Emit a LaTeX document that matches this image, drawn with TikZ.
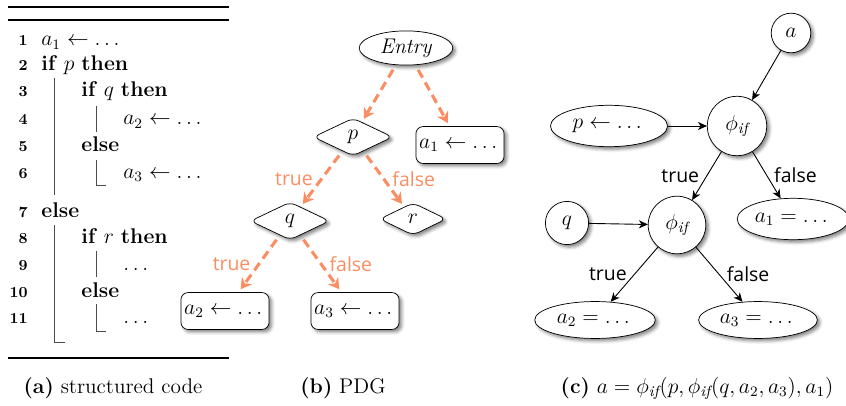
\documentclass[tikz,border=0pt]{standalone}
\usepackage{amsmath,amssymb}
\usepackage{fontspec}
\setsansfont{Open Sans}
\usetikzlibrary{arrows.meta,shapes.geometric,shadows.blur}
\definecolor{depcol}{HTML}{FC8D62}

\begin{document}
\begin{tikzpicture}[x=0.5556pt, y=-0.5556pt,
	every node/.style={font=\fontsize{11.8}{14}\selectfont},
	code/.style={anchor=base west, inner sep=0pt},
	num/.style={anchor=base east, inner sep=0pt, font=\fontsize{8.5}{10}\selectfont\bfseries},
	bar/.style={black!70, line width=0.5pt},
	rule/.style={line width=1pt},
	shad/.style={blur shadow={shadow xshift=1.4pt, shadow yshift=-1.4pt, shadow blur radius=1.8pt, shadow opacity=50}},
	cond/.style={draw, diamond, fill=white, shad, rounded corners=3.5pt, inner sep=0pt, minimum width=44pt, minimum height=21pt},
	stmt/.style={draw, fill=white, shad, rounded corners=4pt, minimum width=49pt, minimum height=20.5pt, inner sep=1pt},
	val/.style={draw, ellipse, fill=white, shad, inner sep=0pt},
	phinode/.style={draw, circle, fill=white, shad, inner sep=0pt, minimum size=33pt},
	dep/.style={-{Stealth[length=6pt, width=7pt, inset=2pt]}, depcol, line width=1.7pt, dash pattern=on 5pt off 3pt, shorten >=2pt, shorten <=3pt},
	flow/.style={-{Stealth[length=5pt, width=4.5pt, inset=1.5pt]}, line width=0.5pt},
	lbl/.style={font=\fontsize{10.8}{12}\selectfont\sffamily, inner sep=2pt}]
	\useasboundingbox (0,0) rectangle (846,406);

	% (a) structured code
	\draw[rule] (8,7) -- (229,7);
	\draw[rule] (8,20) -- (229,20);
	\draw[rule] (8,358) -- (229,358);
	\foreach \n/\y in {1/46,2/71,3/97,4/125,5/152,6/178,7/217,8/243,9/270,10/297,11/323}
		\node[num, name=n\n] at (28,\y) {\n};
	\node[code] (l1) at (41,46) {$a_1 \leftarrow \dots$};
	\node[code] (l2) at (41,71) {\textbf{if} $p$ \textbf{then}};
	\node[code] (l3) at (81,97) {\textbf{if} $q$ \textbf{then}};
	\node[code] (l4) at (123,125) {$a_2 \leftarrow \dots$};
	\node[code] (l5) at (81,152) {\textbf{else}};
	\node[code] (l6) at (123,178) {$a_3 \leftarrow \dots$};
	\node[code] (l7) at (41,217) {\textbf{else}};
	\node[code] (l8) at (81,243) {\textbf{if} $r$ \textbf{then}};
	\node[code] (l9) at (123,270) {$\dots$};
	\node[code] (l10) at (81,297) {\textbf{else}};
	\node[code] (l11) at (123,323) {$\dots$};
	\draw[bar] (54,78) -- (54,195);
	\draw[bar] (96,106) -- (96,132);
	\draw[bar] (96,160) -- (96,185) -- (106,185);
	\draw[bar] (54,225) -- (54,342) -- (65,342);
	\draw[bar] (96,251) -- (96,277);
	\draw[bar] (96,304) -- (96,331) -- (106,331);
	\node[anchor=base] (capa) at (113,393) {\textbf{(a)} structured code};

	% (b) PDG
	\node[draw, ellipse, fill=white, shad, inner sep=0pt, minimum width=52pt, minimum height=19pt] (entry) at (406,48) {\textit{Entry}};
	\node[cond] (p) at (353,137) {$p$};
	\node[stmt] (a1) at (460,145) {$a_1 \leftarrow \dots$};
	\node[cond] (q) at (290,221) {$q$};
	\node[cond, minimum width=37pt, minimum height=18pt] (r) at (413,219) {$r$};
	\node[stmt] (a2) at (225,311) {$a_2 \leftarrow \dots$};
	\node[stmt] (a3) at (355,311) {$a_3 \leftarrow \dots$};
	\draw[dep] (entry) -- (p);
	\draw[dep] (entry) -- (a1);
	\draw[dep] (p) -- node[lbl, depcol, left=2pt] {true} (q);
	\draw[dep] (p) -- node[lbl, depcol, right=2pt] {false} (r);
	\draw[dep] (q) -- node[lbl, depcol, left=2pt] {true} (a2);
	\draw[dep] (q) -- node[lbl, depcol, right=2pt] {false} (a3);
	\node[anchor=base] (capb) at (343,393) {\textbf{(b)} PDG};

	% (c) gated SSA
	\node[draw, circle, fill=white, shad, inner sep=0pt, minimum size=22pt] (a) at (791,33) {$a$};
	\node[phinode] (phi1) at (737,126) {$\phi_{\mathit{if}}$};
	\node[val, minimum width=65pt, minimum height=23pt] (pdef) at (609,126) {$p \leftarrow \dots$};
	\node[phinode, minimum size=32pt] (phi2) at (677,225) {$\phi_{\mathit{if}}$};
	\node[draw, circle, fill=white, shad, inner sep=0pt, minimum size=24pt] (qc) at (567,223) {$q$};
	\node[val, minimum width=62pt, minimum height=23pt] (v1) at (793,219) {$a_1 = \dots$};
	\node[val, minimum width=67pt, minimum height=20.5pt] (v2) at (595,320) {$a_2 = \dots$};
	\node[val, minimum width=66pt, minimum height=20.5pt] (v3) at (758,320) {$a_3 = \dots$};
	\draw[flow] (a) -- (phi1);
	\draw[flow] (pdef) -- (phi1);
	\draw[flow] (qc) -- (phi2);
	\draw[flow] (phi1) -- node[lbl, left=2pt] {true} (phi2);
	\draw[flow] (phi1) -- node[lbl, right=2pt] {false} (v1);
	\draw[flow] (phi2) -- node[lbl, left=2pt] {true} (v2);
	\draw[flow] (phi2) -- node[lbl, right=2pt] {false} (v3);
	\node[anchor=base] (capc) at (697,393) {\textbf{(c)} $a = \phi_{\mathit{if}}(p, \phi_{\mathit{if}}(q, a_2, a_3), a_1)$};
\end{tikzpicture}
\end{document}
